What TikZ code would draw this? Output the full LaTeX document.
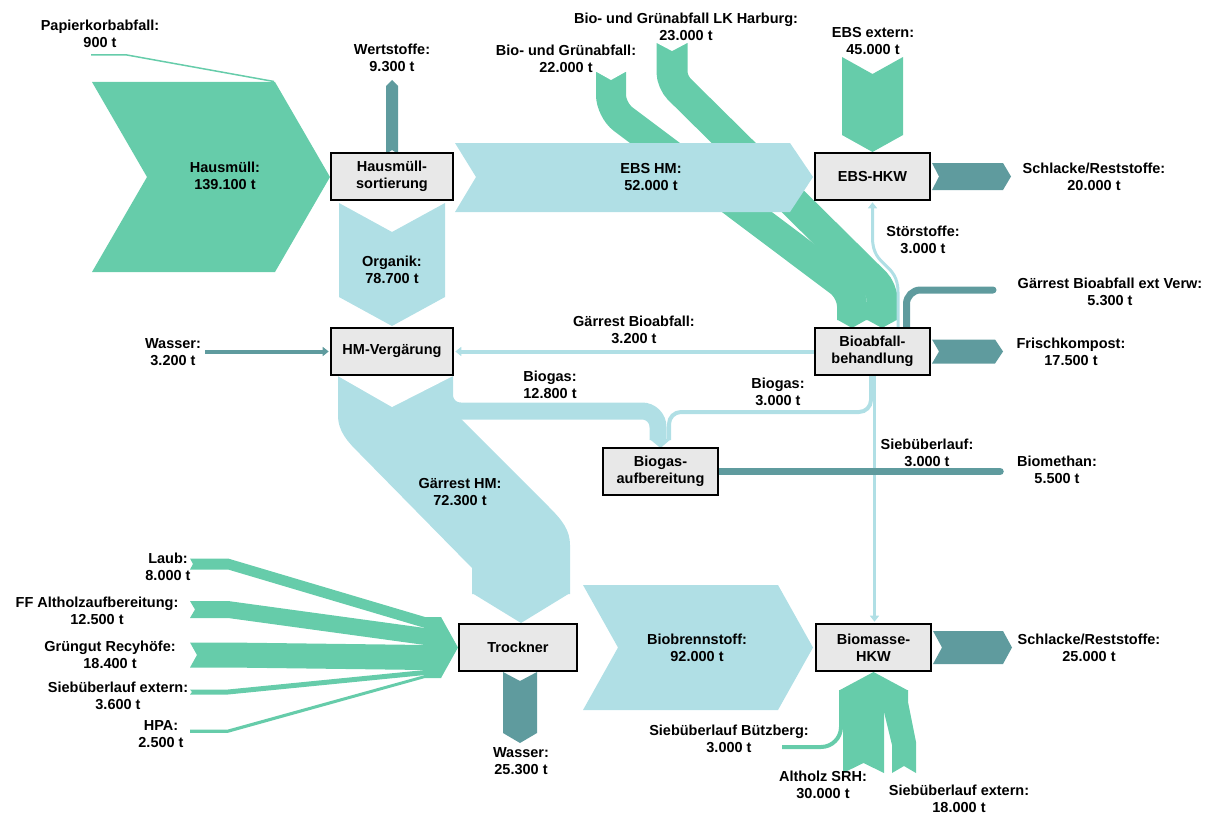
\documentclass[tikz,border=0pt]{standalone}
\usepackage{fontspec}
\setmainfont{Liberation Sans}
\usetikzlibrary{arrows.meta}
\definecolor{fgreen}{RGB}{102,204,170}
\definecolor{flblue}{RGB}{176,223,229}
\definecolor{fdteal}{RGB}{95,155,158}
\definecolor{boxgray}{RGB}{232,232,232}
\newcommand\lblfont{\fontsize{14.5}{17}\selectfont\bfseries}
\pgfdeclarelayer{bg}
\pgfsetlayers{bg,main}
\tikzset{
  procbox/.style={draw=black, line width=2.2pt, fill=boxgray, minimum height=47pt, inner sep=0pt, align=center, font=\lblfont},
  lbl/.style={align=center, inner sep=0pt, font=\lblfont, text=black},
  tipA/.style={-{Triangle[length=6pt,width=9pt]}, shorten >=1.2pt},
}
\begin{document}
\begin{tikzpicture}[x=1pt,y=-1pt]
\useasboundingbox (0,0) rectangle (1213,816);
% process boxes
\node[procbox, minimum width=122pt] (hms) at (392,176.5) {Hausmüll-\\sortierung};
\node[procbox, minimum width=115pt] (ebs) at (872.5,176.5) {EBS-HKW};
\node[procbox, minimum width=122pt] (hmv) at (392,351.5) {HM-Vergärung};
\node[procbox, minimum width=115pt] (bio) at (872.5,351.5) {Bioabfall-\\behandlung};
\node[procbox, minimum width=115pt] (bga) at (660.5,471.5) {Biogas-\\aufbereitung};
\node[procbox, minimum width=118pt] (trk) at (518,647.5) {Trockner};
\node[procbox, minimum width=115pt] (bmk) at (873.5,647.5) {Biomasse-\\HKW};
% free ends
\coordinate (wsrc) at (205,351.5);
\coordinate (bmend) at (1000,471.5);
\begin{pgfonlayer}{bg}
% Bio- und Gruenabfall bands
\draw[fgreen, line width=30pt] (611,72) [rounded corners=15pt] -- (611,110) -- (852,291) -- (852,320);
\fill[white] (595,71) -- (611,80) -- (627,71) -- cycle;
\fill[fgreen] (837,319.5) -- (867,319.5) -- (852,328) -- cycle;
\draw[fgreen, line width=31pt] (672,43) [rounded corners=10pt] -- (672,82) -- (882,289.5) -- (882,320);
\fill[white] (655,42) -- (672,51) -- (689,42) -- cycle;
\fill[fgreen] (866.5,319.5) -- (897.5,319.5) -- (882,328) -- cycle;
% Stoerstoffe
\draw[flblue, line width=3pt, tipA] ([xshift=25.5pt]bio.north) -- (898,292) .. controls (898,262) and (872.5,268) .. (872.5,238) -- (ebs.south);
% EBS HM
\fill[flblue] (455,143) -- (790,143) -- (813,177) -- (790,212) -- (455,212) -- (476,177) -- cycle;
% Hausmuell + Papierkorb
\fill[fgreen] (92,82) -- (275,82) -- (330,177) -- (275,272) -- (92,272) -- (147,177) -- cycle;
\draw[fgreen, line width=1.5pt] (91,55) -- (127,55) -- (274,81.5);
% Wertstoffe
\fill[fdteal] (386,154) -- (386,86) -- (392,80) -- (398,86) -- (398,154) -- (392,150) -- cycle;
% Organik
\fill[flblue] (339,203) -- (392,232) -- (445,203) -- (445,297) -- (392,326) -- (339,297) -- cycle;
% EBS extern
\fill[fgreen] (842,57) -- (872.5,74) -- (903,57) -- (903,135) -- (872.5,152) -- (842,135) -- cycle;
% Schlacke 1
\fill[fdteal] (932,163) -- (1003,163) -- (1011,176.5) -- (1003,190) -- (932,190) -- (939,176.5) -- cycle;
% Gaerrest HM
\fill[flblue] (338,376) -- (338,415) .. controls (338,432) and (348,442) .. (360,454) -- (472,568) -- (472,594) -- (570,594) -- (570,545) .. controls (570,530) and (562,520) .. (549,507) -- (445,403) -- (445,376) -- cycle;
\fill[flblue] (472,593) -- (570,593) -- (521,623) -- cycle;
% Biogas
\draw[flblue, line width=17pt, rounded corners=16pt] (444.5,376) -- (444.5,411) -- (658,411) -- (658,440);
\draw[flblue, line width=4pt, rounded corners=12pt] (871,375) -- (871,412) -- (669,412) -- (669,440);
\fill[flblue] (649.5,439) -- (671,439) -- (660.5,448) -- cycle;
\fill[white] (337,375.5) -- (392,407) -- (454,375.5) -- cycle;
% Gaerrest Bioabfall ext Verw
\draw[fdteal, line width=7pt, rounded corners=14pt, line cap=round] (906.5,330) -- (906.5,290) -- (993,290);
% Frischkompost
\fill[fdteal] (932,339.5) -- (995,339.5) -- (1003,351.5) -- (995,363.5) -- (932,363.5) -- (939,351.5) -- cycle;
% Gaerrest Bioabfall, Wasser
\draw[flblue, line width=4pt, tipA] (bio.west) -- (hmv.east);
\draw[fdteal, line width=4pt, tipA] (wsrc) -- (hmv.west);
% Siebueberlauf
\draw[flblue, line width=3pt, tipA] ([xshift=2pt]bio.south) -- ([xshift=1pt]bmk.north);
% Biomethan
\draw[fdteal, line width=7.5pt, line cap=round] (bga.east) -- (bmend);
% Trockner inflows
\fill[fgreen] (190,558.5) -- (228,558.5) -- (425,617) -- (441,617) -- (441,628) -- (425,628) -- (228,569.5) -- (190,569.5) -- (193,564) -- cycle;
\fill[fgreen] (190,601) -- (228,601) -- (425,628) -- (441,628) -- (441,645) -- (425,645) -- (228,618) -- (190,618) -- (195,609.5) -- cycle;
\fill[fgreen] (190,642.5) -- (228,642.5) -- (425,645) -- (441,645) -- (441,670) -- (425,670) -- (228,667.5) -- (190,667.5) -- (197,655) -- cycle;
\fill[fgreen] (190,689.5) -- (228,689.5) -- (425,670) -- (441,670) -- (441,675) -- (425,675) -- (228,694.5) -- (190,694.5) -- (192,692) -- cycle;
\fill[fgreen] (190,729.5) -- (228,729.5) -- (425,675) -- (441,675) -- (441,678) -- (425,678) -- (228,732.8) -- (190,732.8) -- cycle;
\fill[fgreen] (441,617) -- (458,647.5) -- (441,678) -- cycle;
% Wasser (Trockner)
\fill[fdteal] (503,672) -- (520,681) -- (537,672) -- (537,733) -- (520,743) -- (503,733) -- cycle;
% Biobrennstoff
\fill[flblue] (583,585) -- (778,585) -- (813,647.5) -- (778,710) -- (583,710) -- (618,647.5) -- cycle;
% Schlacke 2
\fill[fdteal] (933,631) -- (1003,631) -- (1012,647.5) -- (1003,664) -- (933,664) -- (942,647.5) -- cycle;
% Biomasse inflows
\fill[fgreen] (839,690.5) -- (873.5,672) -- (908,690.5) -- cycle;
\fill[fgreen] (843,690) -- (884,690) -- (884,773) -- (863.5,763) -- (843,773) -- cycle;
\fill[fgreen] (884,690) -- (908,690) -- (908,702) -- (916,742) -- (916,773) -- (904,766) -- (892,773) -- (892,745) -- (884,712) -- cycle;
\draw[fgreen, line width=4pt, rounded corners=20pt] (841,690) -- (841,747) -- (782,747);
\end{pgfonlayer}
% labels
\node[lbl] (lpap) at (100,34) {Papierkorbabfall:\\900 t};
\node[lbl] (lwert) at (392,58) {Wertstoffe:\\9.300 t};
\node[lbl] (lhaus) at (225,176) {Hausmüll:\\139.100 t};
\node[lbl] (lbio22) at (566,58.5) {Bio- und Grünabfall:\\22.000 t};
\node[lbl] (lbio23) at (686,27) {Bio- und Grünabfall LK Harburg:\\23.000 t};
\node[lbl] (lebsx) at (873,41) {EBS extern:\\45.000 t};
\node[lbl] (lebshm) at (651,177) {EBS HM:\\52.000 t};
\node[lbl] (lschl1) at (1094,177) {Schlacke/Reststoffe:\\20.000 t};
\node[lbl] (lstoer) at (923,240) {Störstoffe:\\3.000 t};
\node[lbl] (lgext) at (1110,292) {Gärrest Bioabfall ext Verw:\\5.300 t};
\node[lbl] (lorg) at (392,270) {Organik:\\78.700 t};
\node[lbl] (lwas1) at (173,352) {Wasser:\\3.200 t};
\node[lbl] (lgbio) at (634,330) {Gärrest Bioabfall:\\3.200 t};
\node[lbl] (lfrisch) at (1071,352) {Frischkompost:\\17.500 t};
\node[lbl] (lbg1) at (550,385) {Biogas:\\12.800 t};
\node[lbl] (lbg2) at (778,392) {Biogas:\\3.000 t};
\node[lbl] (lsieb) at (927,453) {Siebüberlauf:\\3.000 t};
\node[lbl] (lbm) at (1057,470) {Biomethan:\\5.500 t};
\node[lbl] (lghm) at (460,492) {Gärrest HM:\\72.300 t};
\node[lbl] (llaub) at (168,567) {Laub:\\8.000 t};
\node[lbl] (lff) at (97,611) {FF Altholzaufbereitung:\\12.500 t};
\node[lbl] (lgr) at (110,655) {Grüngut Recyhöfe:\\18.400 t};
\node[lbl] (lsx1) at (118,696) {Siebüberlauf extern:\\3.600 t};
\node[lbl] (lhpa) at (161,734) {HPA:\\2.500 t};
\node[lbl] (lwas2) at (521,761) {Wasser:\\25.300 t};
\node[lbl] (lbb) at (697,648) {Biobrennstoff:\\92.000 t};
\node[lbl] (lschl2) at (1089,648) {Schlacke/Reststoffe:\\25.000 t};
\node[lbl] (lbuetz) at (729,739) {Siebüberlauf Bützberg:\\3.000 t};
\node[lbl] (lalt) at (823,785) {Altholz SRH:\\30.000 t};
\node[lbl] (lsx2) at (959,799) {Siebüberlauf extern:\\18.000 t};
\end{tikzpicture}
\end{document}
